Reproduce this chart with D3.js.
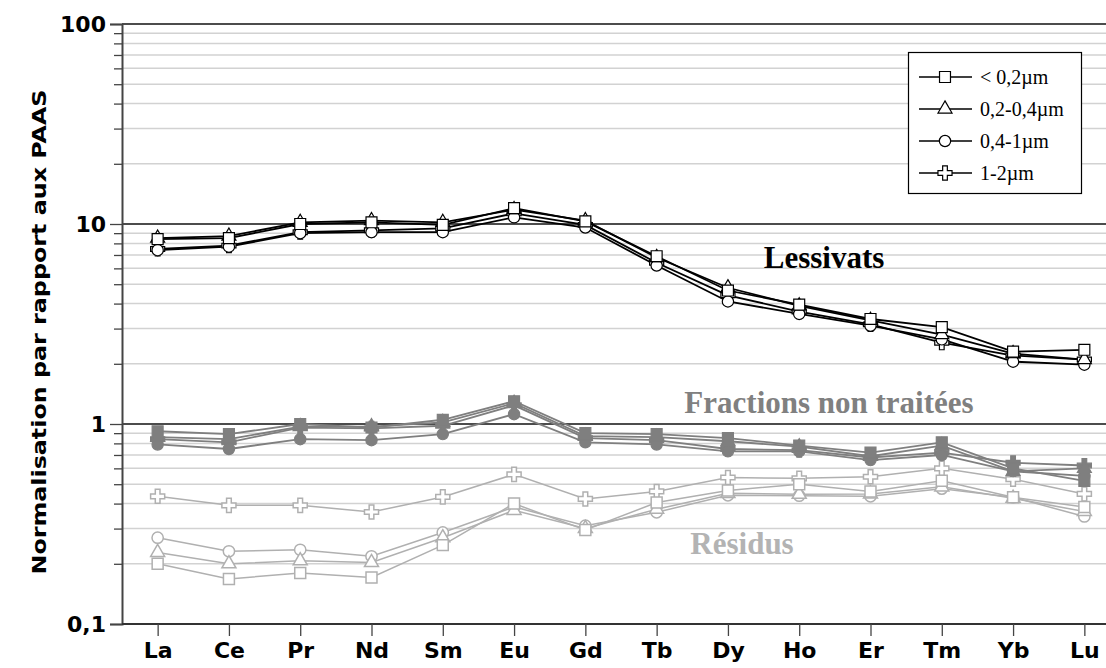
<!DOCTYPE html>
<html>
<head>
<meta charset="utf-8">
<script src="https://cdn.jsdelivr.net/npm/d3@7"></script>
<style>
  html, body { margin: 0; padding: 0; background: #fff; }
  svg { display: block; }
</style>
</head>
<body>
<svg id="chart" width="1106" height="668"></svg>
<script>
// ---------- data ----------
const categories = ["La","Ce","Pr","Nd","Sm","Eu","Gd","Tb","Dy","Ho","Er","Tm","Yb","Lu"];
const sizeLabels = ["< 0,2\u00b5m", "0,2-0,4\u00b5m", "0,4-1\u00b5m", "1-2\u00b5m"];
const yTickValues = [0.1, 1, 10, 100];
const yTickLabels = ["0,1", "1", "10", "100"];
const groupLabels = ["Lessivats", "Fractions non trait\u00e9es", "R\u00e9sidus"];

// Lessivats (leachates)
const lessivatsSq  = [8.4, 8.5, 10.0, 10.2, 9.9, 12.0, 10.3, 6.9, 4.65, 3.95, 3.35, 3.05, 2.3, 2.35];
const lessivatsTri = [8.5, 8.7, 10.2, 10.4, 10.2, 11.8, 10.4, 6.8, 4.8, 3.9, 3.3, 2.8, 2.25, 2.1];
const lessivatsCir = [7.4, 7.7, 9.0, 9.1, 9.1, 10.8, 9.6, 6.2, 4.1, 3.55, 3.1, 2.65, 2.05, 1.98];
const lessivatsCro = [7.5, 7.8, 9.1, 9.3, 9.5, 11.3, 9.9, 6.4, 4.4, 3.65, 3.15, 2.55, 2.2, 2.1];

// Fractions non traitées (untreated fractions)
const fractionsSq  = [0.92, 0.89, 1.0, 0.96, 1.05, 1.3, 0.9, 0.89, 0.85, 0.78, 0.72, 0.81, 0.6, 0.52];
const fractionsTri = [0.86, 0.84, 0.97, 0.97, 1.02, 1.27, 0.87, 0.86, 0.82, 0.77, 0.69, 0.78, 0.58, 0.6];
const fractionsCir = [0.79, 0.75, 0.84, 0.83, 0.89, 1.12, 0.81, 0.79, 0.73, 0.73, 0.66, 0.7, 0.58, 0.55];
const fractionsCro = [0.84, 0.81, 0.96, 0.95, 0.98, 1.24, 0.85, 0.83, 0.75, 0.74, 0.68, 0.72, 0.64, 0.62];

// Résidus (residues)
const residusSq  = [0.2, 0.168, 0.18, 0.171, 0.248, 0.4, 0.295, 0.405, 0.465, 0.5, 0.46, 0.52, 0.43, 0.385];
const residusTri = [0.228, 0.2, 0.207, 0.203, 0.27, 0.37, 0.3, 0.375, 0.45, 0.445, 0.447, 0.485, 0.425, 0.365];
const residusCir = [0.27, 0.231, 0.235, 0.218, 0.287, 0.385, 0.31, 0.362, 0.44, 0.438, 0.435, 0.475, 0.43, 0.345];
const residusCro = [0.435, 0.392, 0.392, 0.363, 0.432, 0.56, 0.422, 0.46, 0.54, 0.535, 0.545, 0.6, 0.53, 0.447];

// ---------- layout ----------
const svg = d3.select("#chart");
const W = 1106, H = 668;
const mLeft = 122, mRight = 1120, mTop = 24, mBottom = 624;

const x = d3.scalePoint().domain(categories).range([mLeft, mRight]).padding(0.5);
const y = d3.scaleLog().domain([0.1, 100]).range([mBottom, mTop]);

const axisFont = "'DejaVu Sans', Verdana, sans-serif";
const serifFont = "'Liberation Serif', 'Times New Roman', serif";

// minor gridlines
const minorVals = [];
[0.1, 1, 10].forEach(d => { for (let k = 2; k <= 9; k++) minorVals.push(+(d * k).toPrecision(3)); });

const grid = svg.append("g");
grid.selectAll("line.minor").data(minorVals).enter().append("line")
  .attr("x1", mLeft).attr("x2", W)
  .attr("y1", d => y(d)).attr("y2", d => y(d))
  .attr("stroke", "#d2d2d2").attr("stroke-width", 1.5);
grid.selectAll("line.major").data([1, 10, 100]).enter().append("line")
  .attr("x1", mLeft).attr("x2", W)
  .attr("y1", d => y(d)).attr("y2", d => y(d))
  .attr("stroke", "#111").attr("stroke-width", 1.6);

// y axis
const yAxisMajor = d3.axisLeft(y).tickValues(yTickValues)
  .tickFormat((d, i) => yTickLabels[i]).tickSize(12).tickPadding(4);
const gy = svg.append("g").attr("transform", `translate(${mLeft},0)`).call(yAxisMajor);
gy.select(".domain").attr("stroke", "#444").attr("stroke-width", 2);
gy.selectAll(".tick line").attr("stroke", "#444").attr("stroke-width", 1.3);
gy.selectAll(".tick text").attr("font-family", axisFont).attr("font-weight", "bold")
  .attr("font-size", 22).attr("fill", "#000");

const yAxisMinor = d3.axisLeft(y).tickValues(minorVals).tickFormat("").tickSize(8);
const gym = svg.append("g").attr("transform", `translate(${mLeft},0)`).call(yAxisMinor);
gym.select(".domain").remove();
gym.selectAll(".tick line").attr("stroke", "#444").attr("stroke-width", 1.3);

// x axis
const xAxis = d3.axisBottom(x).tickSize(12).tickPadding(6).tickSizeOuter(0);
const gx = svg.append("g").attr("transform", `translate(0,${mBottom})`).call(xAxis);
gx.select(".domain").attr("stroke", "#333").attr("stroke-width", 2)
  .attr("d", `M${mLeft},0H${W}`);
gx.selectAll(".tick line").attr("stroke", "#444").attr("stroke-width", 1.3);
gx.selectAll(".tick text").attr("font-family", axisFont).attr("font-weight", "bold")
  .attr("font-size", 22).attr("fill", "#000");

// y title
svg.append("text")
  .attr("transform", `translate(46,${(mTop + mBottom) / 2 + 8}) rotate(-90)`)
  .attr("text-anchor", "middle")
  .attr("font-family", axisFont).attr("font-weight", "bold").attr("font-size", 19)
  .attr("textLength", 485).attr("lengthAdjust", "spacingAndGlyphs")
  .text("Normalisation par rapport aux PAAS");

// ---------- series ----------
const symbolTypes = [d3.symbolSquare, d3.symbolTriangle, d3.symbolCircle, d3.symbolCross];
const symbolSizes = [120, 85, 100, 110];

const groups = [
  { name: "residus", series: [residusSq, residusTri, residusCir, residusCro],
    line: "#b0b0b0", lw: 1.5, fill: "#fff", stroke: "#b0b0b0", sw: 1.5 },
  { name: "fractions", series: [fractionsSq, fractionsTri, fractionsCir, fractionsCro],
    line: "#7f7f7f", lw: 1.8, fill: "#7f7f7f", stroke: "#7f7f7f", sw: 1.2 },
  { name: "lessivats", series: [lessivatsSq, lessivatsTri, lessivatsCir, lessivatsCro],
    line: "#000", lw: 1.8, fill: "#fff", stroke: "#000", sw: 1.2 }
];

const lineGen = d3.line().x((d, i) => x(categories[i])).y(d => y(d));
const drawOrder = [3, 2, 1, 0];

groups.forEach(g => {
  const gg = svg.append("g").attr("class", g.name);
  drawOrder.forEach(si => {
    const vals = g.series[si];
    gg.append("path").datum(vals)
      .attr("d", lineGen).attr("fill", "none")
      .attr("stroke", g.line).attr("stroke-width", g.lw);
  });
  drawOrder.forEach(si => {
    const vals = g.series[si];
    const sym = d3.symbol().type(symbolTypes[si]).size(symbolSizes[si]);
    gg.selectAll(null).data(vals).enter().append("path")
      .attr("d", sym)
      .attr("transform", (d, i) => `translate(${x(categories[i])},${y(d)})`)
      .attr("fill", g.fill).attr("stroke", g.stroke).attr("stroke-width", g.sw);
  });
});

// ---------- group labels ----------
svg.append("text").attr("x", 824).attr("y", 268).attr("text-anchor", "middle")
  .attr("font-family", serifFont).attr("font-weight", "bold").attr("font-size", 31)
  .attr("fill", "#000").text(groupLabels[0]);
svg.append("text").attr("x", 829).attr("y", 413).attr("text-anchor", "middle")
  .attr("font-family", serifFont).attr("font-weight", "bold").attr("font-size", 31)
  .attr("fill", "#808080").text(groupLabels[1]);
svg.append("text").attr("x", 742).attr("y", 554).attr("text-anchor", "middle")
  .attr("font-family", serifFont).attr("font-weight", "bold").attr("font-size", 31)
  .attr("fill", "#b3b3b3").text(groupLabels[2]);

// ---------- legend ----------
const lg = svg.append("g");
lg.append("rect").attr("x", 908.5).attr("y", 52.5).attr("width", 173).attr("height", 141)
  .attr("fill", "#fff").attr("stroke", "#000").attr("stroke-width", 1.2);
const legendY = d3.scalePoint().domain(sizeLabels).range([77, 173]);
sizeLabels.forEach((lab, i) => {
  const yy = legendY(lab);
  lg.append("line").attr("x1", 919).attr("x2", 972).attr("y1", yy).attr("y2", yy)
    .attr("stroke", "#000").attr("stroke-width", 1.3);
  lg.append("path").attr("d", d3.symbol().type(symbolTypes[i]).size(symbolSizes[i])())
    .attr("transform", `translate(945,${yy})`)
    .attr("fill", "#fff").attr("stroke", "#000").attr("stroke-width", 1.2);
  lg.append("text").attr("x", 980).attr("y", yy).attr("dy", "0.35em")
    .attr("font-family", serifFont).attr("font-size", 20).attr("fill", "#000").text(lab);
});
</script>
</body>
</html>
